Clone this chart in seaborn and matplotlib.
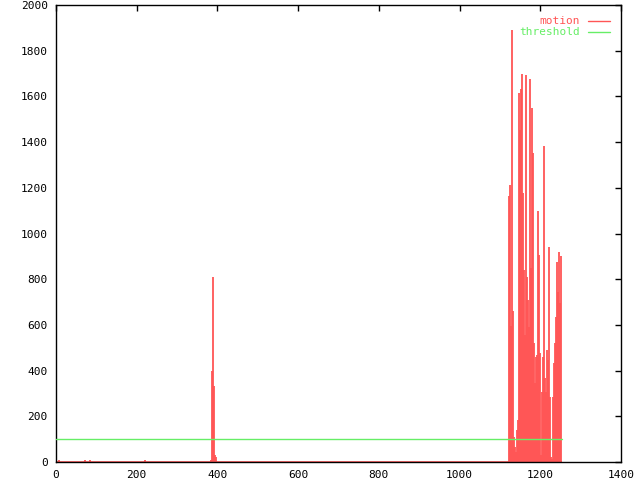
import matplotlib
matplotlib.use("Agg")
import matplotlib.pyplot as plt
import seaborn as sns
import numpy as np
import pandas as pd

# ---- data ----
last_frame = 1254
threshold = 100

# sparse non-zero motion samples (frame, value)
frames = [7, 72, 84, 220,
          384, 386, 389, 391, 394, 397,
          1122, 1125, 1127, 1130, 1132, 1135, 1137, 1140, 1142, 1145,
          1147, 1150, 1152, 1155, 1157, 1160, 1162, 1165, 1167, 1170,
          1172, 1175, 1177, 1179, 1182, 1184, 1187, 1189, 1192, 1194,
          1197, 1199, 1202, 1204, 1207, 1209, 1212, 1214, 1217, 1219,
          1222, 1224, 1227, 1229, 1232, 1234, 1237, 1239, 1242, 1244,
          1247, 1249, 1252]
motion = [8, 8, 8, 8,
          10, 398, 811, 332, 30, 22,
          1164, 1214, 595, 1890, 662, 109, 67, 45, 140, 184,
          1613, 1453, 1632, 1697, 1177, 840, 556, 1694, 811, 709,
          592, 1676, 849, 1549, 1352, 521, 346, 460, 470, 1100,
          906, 477, 30, 308, 461, 1383, 367, 308, 490, 446,
          942, 286, 23, 12, 286, 433, 522, 636, 877, 745,
          920, 695, 900]

labels = ["motion", "threshold"]
x_ticks = [0, 200, 400, 600, 800, 1000, 1200, 1400]
y_ticks = [0, 200, 400, 600, 800, 1000, 1200, 1400, 1600, 1800, 2000]

red = "#ff5555"
green = "#66ee66"

sns.set_style("white")
plt.rcParams["font.family"] = ["DejaVu Sans Mono"]

fig = plt.figure(figsize=(6.4, 4.8), dpi=100)
ax = fig.add_axes([56 / 640, 1 - 462 / 480, 565 / 640, 457 / 480])

df = pd.DataFrame({"frame": frames, "motion": motion})
# zero baseline of motion across all frames
ax.hlines(0, 0, last_frame, color=red, linewidth=1.2, zorder=2)
# impulses
ax.vlines(df["frame"], 0, df["motion"], color=red, linewidth=1.3, zorder=2)

thr = pd.DataFrame({"frame": [0, last_frame], "value": [threshold, threshold]})
sns.lineplot(data=thr, x="frame", y="value", color=green, linewidth=1.0, ax=ax, zorder=3)

ax.set_xlim(0, 1400)
ax.set_ylim(0, 2000)
ax.set_xticks(x_ticks)
ax.set_yticks(y_ticks)
ax.set_xticklabels([str(v) for v in x_ticks])
ax.set_yticklabels([str(v) for v in y_ticks])
ax.set_xlabel("")
ax.set_ylabel("")
ax.tick_params(axis="both", direction="in", length=4.5, width=1, color="black",
               labelsize=8, top=True, right=True, labelcolor="black")
ax.tick_params(axis="y", pad=6)
ax.tick_params(axis="x", pad=6)
for s in ax.spines.values():
    s.set_color("black")
    s.set_linewidth(1)
    s.set_visible(True)

# legend (gnuplot style, top right inside)
tx = (580 - 56) / 565
lx0 = (588 - 56) / 565
lx1 = (610 - 56) / 565
rows = [(462 - 21) / 457, (462 - 32) / 457]
for lab, col, yy in zip(labels, [red, green], rows):
    ax.text(tx, yy, lab, color=col, fontsize=8, ha="right", va="center",
            transform=ax.transAxes)
    ax.plot([lx0, lx1], [yy, yy], color=col, linewidth=1.0, transform=ax.transAxes)

fig.savefig("out.png", dpi=100)
